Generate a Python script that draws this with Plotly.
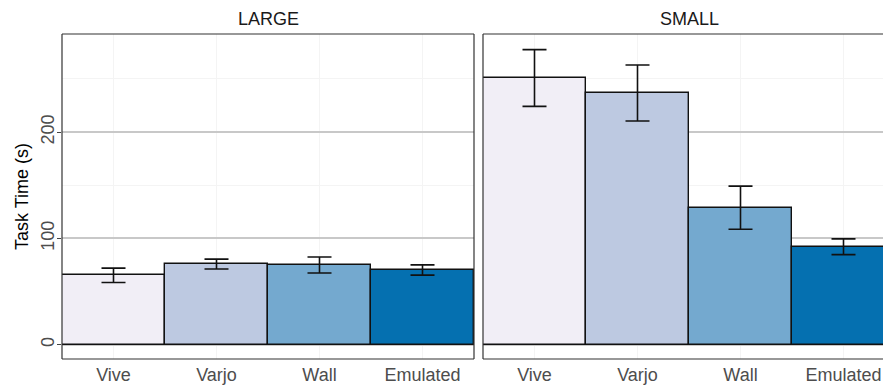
import plotly.graph_objects as go

categories = ["Vive", "Varjo", "Wall", "Emulated"]
panels = ["LARGE", "SMALL"]
large_mean = [65.3, 75.9, 75.0, 70.3]
large_err = [6.8, 4.6, 7.5, 4.8]
small_mean = [250.9, 236.8, 128.9, 92.2]
small_err = [26.7, 26.4, 20.3, 7.4]
colors = ["#F1EEF6", "#BDC9E1", "#74A9CF", "#0570B0"]
y_ticks = [0, 100, 200]

W, H = 883, 386
font = "Liberation Sans, Arial, sans-serif"

fig = go.Figure()
for means, errs, xa, ya in [(large_mean, large_err, "x", "y"), (small_mean, small_err, "x2", "y2")]:
    fig.add_trace(go.Bar(
        x=categories, y=means, width=1.0,
        marker=dict(color=colors, line=dict(color="#111111", width=1.4)),
        error_y=dict(type="data", array=errs, color="#111111", thickness=1.6, width=12),
        xaxis=xa, yaxis=ya, showlegend=False,
    ))

px = lambda p: p / W
py = lambda p: 1 - p / H
L0, L1 = px(62), px(474)
R0, R1 = px(483), 1.0
T, B = py(34), py(359)

yrange = [-13.4, 292.3]
ycommon = dict(range=yrange, tickvals=y_ticks, showgrid=True, gridcolor="#c8c8c8", gridwidth=2,
               minor=dict(tickvals=[50, 150, 250], showgrid=True, gridcolor="#f4f4f4", gridwidth=1),
               zeroline=False, domain=[B, T], showline=False)
xcommon = dict(type="category", showgrid=True, gridcolor="#f4f4f4", gridwidth=1,
               ticks="", tickfont=dict(family=font, size=18, color="#4d4d4d"), ticklabelstandoff=3,
               showline=False, zeroline=False)

fig.update_layout(
    width=W, height=H, margin=dict(l=0, r=0, t=0, b=0),
    paper_bgcolor="white", plot_bgcolor="white", bargap=0,
    font=dict(family=font),
    xaxis=dict(domain=[L0, L1], range=[-0.5, 3.5], anchor="y", **xcommon),
    xaxis2=dict(domain=[R0, R1], range=[-0.5, 3.5 - 12 / 103], anchor="y2", **xcommon),
    yaxis=dict(anchor="x", ticks="outside", ticklen=4, tickwidth=1.2, tickcolor="#444444", tickangle=-90,
               tickfont=dict(family=font, size=18, color="#4d4d4d"), ticklabelstandoff=-4,
               title=dict(text="Task Time (s)", font=dict(family=font, size=18, color="#000000"), standoff=4),
               **ycommon),
    yaxis2=dict(anchor="x2", matches="y", showticklabels=False, ticks="", **ycommon),
)

frame = dict(type="line", xref="paper", yref="paper", line=dict(color="#333333", width=1.2), layer="above")
shapes = [
    dict(x0=L0, x1=L1, y0=T, y1=T, **frame),
    dict(x0=L0, x1=L1, y0=B, y1=B, **frame),
    dict(x0=L0, x1=L0, y0=B, y1=T, **frame),
    dict(x0=L1, x1=L1, y0=B, y1=T, **frame),
    dict(x0=R0, x1=R1, y0=T, y1=T, **frame),
    dict(x0=R0, x1=R1, y0=B, y1=B, **frame),
    dict(x0=R0, x1=R0, y0=B, y1=T, **frame),
]
fig.update_layout(shapes=shapes)

for name, cx in zip(panels, [(62 + 474) / 2, (483 + 895) / 2]):
    fig.add_annotation(text=name, x=px(cx), y=py(19), xref="paper", yref="paper", showarrow=False,
                       font=dict(family=font, size=18, color="#1a1a1a"), xanchor="center", yanchor="middle")

fig.write_html("out.html", config={"displayModeBar": False},
               post_script="document.body.style.margin='0';document.body.style.overflow='hidden';")
